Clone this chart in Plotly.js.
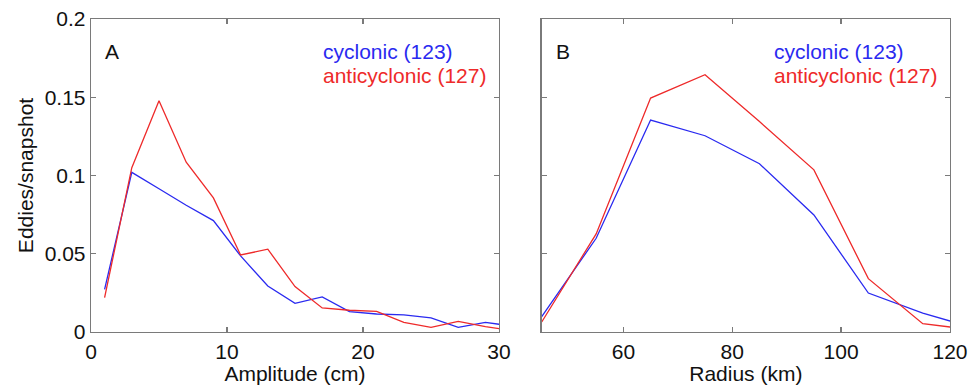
<!DOCTYPE html>
<html>
<head>
<meta charset="utf-8">
<script src="https://cdn.plot.ly/plotly-3.0.1.min.js"></script>
<style>html,body{margin:0;padding:0;background:#fff;}#chart{width:968px;height:388px;}</style>
</head>
<body>
<div id="chart"></div>
<script>
// Panel A: amplitude (cm)
const ampX = [1, 3, 5, 7, 9, 11, 13, 15, 17, 19, 21, 23, 25, 27, 29, 31];
const ampCyclonic = [0.0273, 0.102, 0.0915, 0.081, 0.0712, 0.0486, 0.0294, 0.0183, 0.0224, 0.013, 0.0115, 0.011, 0.009, 0.003, 0.0062, 0.0037];
const ampAnticyclonic = [0.022, 0.105, 0.1477, 0.1085, 0.0857, 0.0492, 0.0529, 0.029, 0.0154, 0.0139, 0.0132, 0.0062, 0.003, 0.0068, 0.0034, 0.001];
// Panel B: radius (km)
const radX = [45, 55, 65, 75, 85, 95, 105, 115, 125];
const radCyclonic = [0.0098, 0.0599, 0.1354, 0.1254, 0.1075, 0.0748, 0.0249, 0.012, 0.002];
const radAnticyclonic = [0.0064, 0.0627, 0.1495, 0.1644, 0.1345, 0.1036, 0.0341, 0.0053, 0.0011];
// Labels
const panelLabels = ['A', 'B'];
const seriesLabels = ['cyclonic (123)', 'anticyclonic (127)'];
const yTicks = [0, 0.05, 0.1, 0.15, 0.2];
const ampTicks = [0, 10, 20, 30];
const radTicks = [60, 80, 100, 120];

const BLUE = '#2a2af0', RED = '#ee2a2a';
const FONT = 'Liberation Sans, Arial, sans-serif';
const FS = 21;
const lineW = 1.3;

const traces = [
  {x: ampX, y: ampCyclonic, xaxis: 'x', yaxis: 'y', mode: 'lines', line: {color: BLUE, width: lineW}},
  {x: ampX, y: ampAnticyclonic, xaxis: 'x', yaxis: 'y', mode: 'lines', line: {color: RED, width: lineW}},
  {x: radX, y: radCyclonic, xaxis: 'x2', yaxis: 'y2', mode: 'lines', line: {color: BLUE, width: lineW}},
  {x: radX, y: radAnticyclonic, xaxis: 'x2', yaxis: 'y2', mode: 'lines', line: {color: RED, width: lineW}}
];

const axCommon = {
  showline: true, mirror: 'ticks', linecolor: '#7a7a7a', linewidth: 1.3,
  ticks: 'inside', ticklen: 5, tickcolor: '#7a7a7a', tickwidth: 1.3,
  showgrid: false, zeroline: false, tickfont: {family: FONT, size: FS, color: '#111'}
};

const layout = {
  width: 968, height: 388,
  margin: {l: 91, r: 18, t: 19, b: 56},
  paper_bgcolor: '#fff', plot_bgcolor: '#fff',
  showlegend: false,
  font: {family: FONT, size: FS, color: '#111'},
  xaxis: Object.assign({}, axCommon, {domain: [0, 0.475], range: [0, 30], tickvals: ampTicks,
    title: {text: 'Amplitude (cm)', font: {family: FONT, size: FS, color: '#111'}, standoff: 4}}),
  yaxis: Object.assign({}, axCommon, {range: [0, 0.2], tickvals: yTicks, ticktext: yTicks.map(String),
    title: {text: 'Eddies/snapshot', font: {family: FONT, size: FS, color: '#111'}, standoff: 5}}),
  xaxis2: Object.assign({}, axCommon, {domain: [0.5247, 1], range: [45, 120], tickvals: radTicks, anchor: 'y2',
    title: {text: 'Radius (km)', font: {family: FONT, size: FS, color: '#111'}, standoff: 4}}),
  yaxis2: Object.assign({}, axCommon, {range: [0, 0.2], tickvals: yTicks, showticklabels: false, anchor: 'x2'}),
  annotations: []
};

const axPairs = [['x', 'y'], ['x2', 'y2']];
axPairs.forEach(function (p, i) {
  layout.annotations.push({xref: p[0] + ' domain', yref: p[1] + ' domain', x: 0.03, y: 0.895,
    xanchor: 'left', yanchor: 'middle', showarrow: false, text: panelLabels[i],
    font: {family: FONT, size: FS, color: '#111'}});
  layout.annotations.push({xref: p[0] + ' domain', yref: p[1] + ' domain', x: 0.564, y: 0.895,
    xanchor: 'left', yanchor: 'middle', showarrow: false, text: seriesLabels[0],
    font: {family: FONT, size: FS, color: BLUE}});
  layout.annotations.push({xref: p[0] + ' domain', yref: p[1] + ' domain', x: 0.564, y: 0.821,
    xanchor: 'left', yanchor: 'middle', showarrow: false, text: seriesLabels[1],
    font: {family: FONT, size: FS, color: RED}});
});

Plotly.newPlot('chart', traces, layout, {displayModeBar: false, staticPlot: true});
</script>
</body>
</html>
